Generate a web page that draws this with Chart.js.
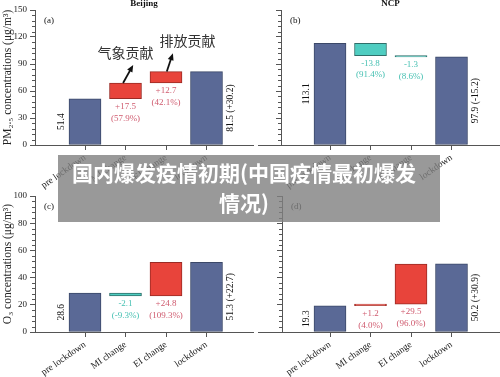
<!DOCTYPE html>
<html>
<head>
<meta charset="utf-8">
<script src="https://cdn.jsdelivr.net/npm/chart.js@4.4.1/dist/chart.umd.min.js"></script>
<style>
  html, body { margin: 0; padding: 0; background: #fff; }
  #wrap { position: relative; width: 500px; height: 377px; overflow: hidden; background: #fff; }
  #wrap canvas { position: absolute; left: 0; top: 0; }
  #banner {
    position: absolute; left: 58px; top: 155px; width: 382px; height: 67px;
    box-sizing: border-box; padding: 2px 10px 0 0;
    background: rgba(128, 128, 128, 0.8); color: #fff;
    font: bold 21px "Noto Sans CJK SC", sans-serif; line-height: 30px; text-align: center;
  }
</style>
</head>
<body>
<div id="wrap">
  <canvas id="panelA" width="500" height="377"></canvas>
  <canvas id="panelB" width="500" height="377"></canvas>
  <canvas id="panelC" width="500" height="377"></canvas>
  <canvas id="panelD" width="500" height="377"></canvas>
  <div id="banner">国内爆发疫情初期(中国疫情最初爆发<br>情况)</div>
</div>
<script>
// categories of each waterfall
const categories = ['pre lockdown', 'MI change', 'EI change', 'lockdown'];

// pre lockdown, MI change, EI change, lockdown
const beijingPm = [51.4, 17.5, 12.7, 81.5];
const ncpPm = [113.1, -13.8, -1.3, 97.9];
const beijingO3 = [28.6, -2.1, 24.8, 51.3];
const ncpO3 = [19.3, 1.2, 29.5, 50.2];

// share of the total change (MI, EI)
const beijingPmShare = ['57.9%', '42.1%'];
const ncpPmShare = ['91.4%', '8.6%'];
const beijingO3Share = ['-9.3%', '109.3%'];
const ncpO3Share = ['4.0%', '96.0%'];

// lockdown minus pre lockdown, as printed
const beijingPmTotal = 30.2;
const ncpPmTotal = -15.2;
const beijingO3Total = 22.7;
const ncpO3Total = 30.9;

// y tick labels
const pmTicks = [0, 30, 60, 90, 120, 150];
const o3Ticks = [0, 20, 40, 60, 80, 100];

const BLUE = '#5a6996', BLUE_EDGE = '#3b4868';
const RED = '#e8443b', RED_EDGE = '#9a2b25';
const TEAL = '#4fcdc1', TEAL_EDGE = '#2f6f6a';
const RED_TEXT = '#cf5a6e', TEAL_TEXT = '#46c0b2';
const AXIS = '#555';
const SERIF = '"Liberation Serif", "DejaVu Serif", serif';
const CAT_STEP = 40.5; // px between categories

function signed(v) {
  return (v >= 0 ? '+' : '-') + Math.abs(v).toFixed(1);
}

function drawArrow(ctx, x1, y1, x2, y2) {
  const a = Math.atan2(y2 - y1, x2 - x1);
  ctx.save();
  ctx.strokeStyle = '#111';
  ctx.fillStyle = '#111';
  ctx.lineWidth = 1.8;
  ctx.beginPath();
  ctx.moveTo(x1, y1);
  ctx.lineTo(x2 - 4 * Math.cos(a), y2 - 4 * Math.sin(a));
  ctx.stroke();
  ctx.beginPath();
  ctx.moveTo(x2, y2);
  ctx.lineTo(x2 - 7 * Math.cos(a) + 3 * Math.sin(a), y2 - 7 * Math.sin(a) - 3 * Math.cos(a));
  ctx.lineTo(x2 - 7 * Math.cos(a) - 3 * Math.sin(a), y2 - 7 * Math.sin(a) + 3 * Math.cos(a));
  ctx.closePath();
  ctx.fill();
  ctx.restore();
}

function makePanel(id, p) {
  const v = p.values;
  const afterMi = v[0] + v[1];
  const bars = [
    { x: 0, y: [0, v[0]] },
    { x: 1, y: [v[0], afterMi] },
    { x: 2, y: [afterMi, afterMi + v[2]] },
    { x: 3, y: [0, v[3]] }
  ];
  const fill = v.map((d, i) => (i === 0 || i === 3) ? BLUE : (d >= 0 ? RED : TEAL));
  const edge = v.map((d, i) => (i === 0 || i === 3) ? BLUE_EDGE : (d >= 0 ? RED_EDGE : TEAL_EDGE));

  const area = p.area;
  const xMin = -(p.firstCenter - area.left) / CAT_STEP;
  const xMax = xMin + (area.right - area.left) / CAT_STEP;
  const yWidth = p.yTitle ? 35 : 10;
  const yMax = p.yTicks[p.yTicks.length - 1];
  const yStep = p.yTicks[1] - p.yTicks[0];

  const panelPlugin = {
    id: 'panelExtras',
    afterDraw(chart) {
      const ctx = chart.ctx;
      const xs = chart.scales.x, ys = chart.scales.y;
      const ca = chart.chartArea;
      ctx.save();

      // minor ticks on the y axis
      ctx.strokeStyle = AXIS;
      ctx.lineWidth = 1;
      const minor = yStep / 5;
      for (let t = minor; t < yMax; t += minor) {
        if (Math.abs(t / yStep - Math.round(t / yStep)) < 1e-6) continue;
        const py = Math.round(ys.getPixelForValue(t)) + 0.5;
        ctx.beginPath();
        ctx.moveTo(ca.left - 3, py);
        ctx.lineTo(ca.left, py);
        ctx.stroke();
      }

      // x axis line running left of the y axis
      if (p.lineFrom) {
        const py = Math.round(ca.bottom) + 0.5;
        ctx.beginPath();
        ctx.moveTo(p.lineFrom, py);
        ctx.lineTo(ca.left, py);
        ctx.stroke();
      }

      // value labels
      const meta = chart.getDatasetMeta(0);
      meta.data.forEach((bar, i) => {
        const pr = bar.getProps(['x', 'y', 'base', 'width'], true);
        const top = Math.min(pr.y, pr.base), bottom = Math.max(pr.y, pr.base);
        const mid = (top + bottom) / 2;
        ctx.textAlign = 'center';
        ctx.textBaseline = 'middle';
        if (i === 0 || i === 3) {
          const txt = i === 0 ? v[0].toFixed(1) : v[3].toFixed(1) + ' (' + signed(p.total) + ')';
          const tx = i === 0 ? pr.x - pr.width / 2 - 7.5 : pr.x + pr.width / 2 + 8;
          ctx.save();
          ctx.translate(tx, mid);
          ctx.rotate(-Math.PI / 2);
          ctx.fillStyle = '#111';
          ctx.font = '9.5px ' + SERIF;
          ctx.fillText(txt, 0, 0);
          ctx.restore();
        } else {
          ctx.fillStyle = v[i] >= 0 ? RED_TEXT : TEAL_TEXT;
          ctx.font = '9px ' + SERIF;
          ctx.fillText(signed(v[i]), pr.x, bottom + 8);
          ctx.fillText('(' + p.shares[i - 1] + ')', pr.x, bottom + 19.5);
        }
      });

      // panel letter and title
      ctx.fillStyle = '#111';
      ctx.font = '9px ' + SERIF;
      ctx.textAlign = 'left';
      ctx.fillText(p.letter, ca.left + 9, ca.top + 11);
      if (p.title) {
        ctx.textAlign = 'center';
        ctx.font = 'bold 9px ' + SERIF;
        ctx.fillText(p.title, (ca.left + ca.right) / 2, 4);
      }

      // contribution notes (Beijing PM2.5 only)
      if (p.notes) {
        ctx.fillStyle = '#333';
        ctx.font = '14px "Noto Sans CJK SC", sans-serif';
        ctx.textAlign = 'center';
        ctx.fillText('气象贡献', xs.getPixelForValue(1), ys.getPixelForValue(103));
        ctx.fillText('排放贡献', xs.getPixelForValue(2.53), ys.getPixelForValue(115.5));
        drawArrow(ctx, xs.getPixelForValue(0.94), ys.getPixelForValue(afterMi),
          xs.getPixelForValue(1.19), ys.getPixelForValue(89));
        drawArrow(ctx, xs.getPixelForValue(2.02), ys.getPixelForValue(afterMi + v[2]),
          xs.getPixelForValue(2.17), ys.getPixelForValue(102));
      }
      ctx.restore();
    }
  };

  return new Chart(document.getElementById(id), {
    type: 'bar',
    data: {
      datasets: [{
        data: bars,
        backgroundColor: fill,
        borderColor: edge,
        borderWidth: 1,
        borderSkipped: false,
        barThickness: 32
      }]
    },
    options: {
      responsive: false,
      animation: false,
      devicePixelRatio: 1,
      layout: {
        padding: { left: area.left - yWidth, top: area.top, right: 500 - area.right, bottom: 0 }
      },
      plugins: { legend: { display: false }, tooltip: { enabled: false } },
      scales: {
        x: {
          type: 'linear',
          min: xMin,
          max: xMax,
          offset: false,
          grid: { offset: false, drawOnChartArea: false, tickLength: 5, color: AXIS },
          border: { color: AXIS },
          afterBuildTicks(scale) {
            scale.ticks = categories.map((c, i) => ({ value: i }));
          },
          ticks: {
            autoSkip: false,
            minRotation: 35,
            maxRotation: 35,
            padding: 2,
            color: '#222',
            font: { family: SERIF, size: 9.5 },
            callback: (val) => categories[val]
          },
          afterFit(scale) { scale.height = 377 - area.bottom; }
        },
        y: {
          min: 0,
          max: yMax,
          grid: { drawOnChartArea: false, tickLength: 5, color: AXIS },
          border: { color: AXIS },
          ticks: {
            stepSize: yStep,
            padding: 3,
            color: '#222',
            font: { family: SERIF, size: 9 },
            callback: (val) => p.yTitle ? val : ''
          },
          title: {
            display: !!p.yTitle,
            text: p.yTitle || '',
            color: '#222',
            padding: { top: 1, bottom: 0 },
            font: { family: SERIF, size: 11.5 }
          },
          afterFit(scale) { scale.width = yWidth; }
        }
      }
    },
    plugins: [panelPlugin]
  });
}

makePanel('panelA', {
  values: beijingPm, shares: beijingPmShare, total: beijingPmTotal,
  area: { left: 35, top: 10, right: 253, bottom: 145 }, firstCenter: 85,
  yTicks: pmTicks, yTitle: 'PM\u2082.\u2085 concentrations (\u03bcg/m\u00b3)',
  letter: '(a)', title: 'Beijing', notes: true
});
makePanel('panelB', {
  values: ncpPm, shares: ncpPmShare, total: ncpPmTotal,
  area: { left: 281, top: 10, right: 500, bottom: 145 }, firstCenter: 330,
  yTicks: pmTicks, letter: '(b)', title: 'NCP', lineFrom: 258
});
makePanel('panelC', {
  values: beijingO3, shares: beijingO3Share, total: beijingO3Total,
  area: { left: 35, top: 196, right: 253, bottom: 332 }, firstCenter: 85,
  yTicks: o3Ticks, yTitle: 'O\u2083 concentrations (\u03bcg/m\u00b3)',
  letter: '(c)'
});
makePanel('panelD', {
  values: ncpO3, shares: ncpO3Share, total: ncpO3Total,
  area: { left: 282, top: 196, right: 500, bottom: 332 }, firstCenter: 330,
  yTicks: o3Ticks, letter: '(d)', lineFrom: 258
});
</script>
</body>
</html>
